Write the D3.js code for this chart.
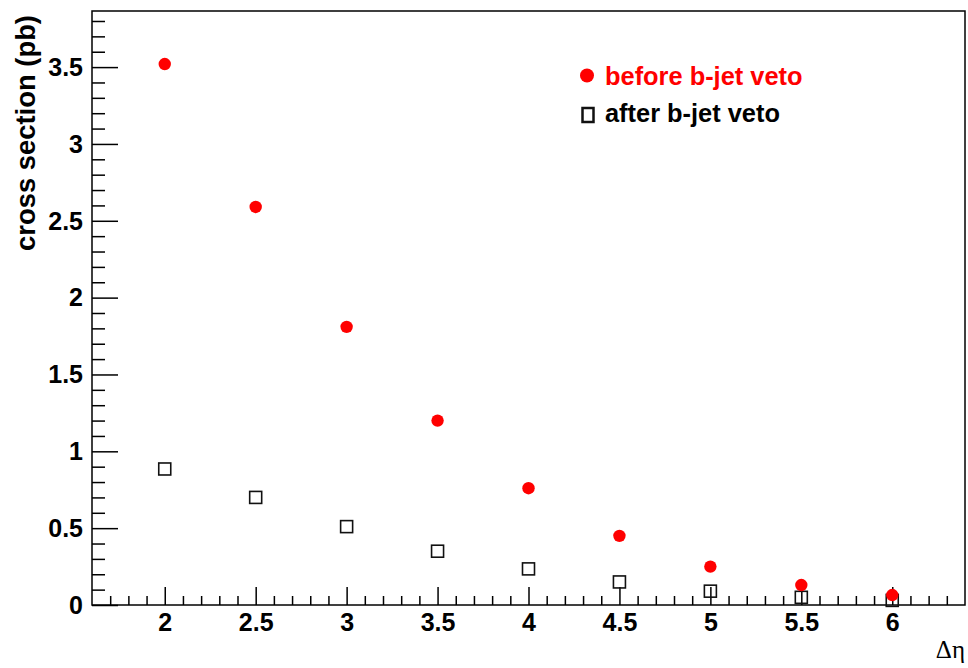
<!DOCTYPE html>
<html>
<head>
<meta charset="utf-8">
<script src="https://cdn.jsdelivr.net/npm/d3@7"></script>
<style>
  html, body { margin: 0; padding: 0; background: #fff; }
  svg { display: block; }
  text { font-family: "Liberation Sans", Arial, sans-serif; }
  text.serif { font-family: "Liberation Serif", "Times New Roman", serif; }
</style>
</head>
<body>
<svg id="chart" width="968" height="668"></svg>
<script>
// Δη bins and cross sections (pb)
const deltaEta = [2, 2.5, 3, 3.5, 4, 4.5, 5, 5.5, 6];
const beforeVeto = [3.52, 2.59, 1.81, 1.20, 0.76, 0.45, 0.25, 0.13, 0.065];
const afterVeto = [0.885, 0.70, 0.51, 0.35, 0.235, 0.15, 0.09, 0.05, 0.03];

const xMajorTicks = [2, 2.5, 3, 3.5, 4, 4.5, 5, 5.5, 6];
const xTickLabels = ["2", "2.5", "3", "3.5", "4", "4.5", "5", "5.5", "6"];
const yMajorTicks = [0, 0.5, 1, 1.5, 2, 2.5, 3, 3.5];
const yTickLabels = ["0", "0.5", "1", "1.5", "2", "2.5", "3", "3.5"];
const legendLabels = ["before b-jet veto", "after b-jet veto"];

const frame = { left: 92, right: 965, top: 11, bottom: 605 };
const svg = d3.select("#chart");

const x = d3.scaleLinear().domain([1.6, 6.4]).range([frame.left, frame.right]);
const y = d3.scaleLinear().domain([0, 3.865]).range([frame.bottom, frame.top]);

// minor tick positions
const xMinor = d3.range(17, 64).map(d => d / 10).filter(v => !xMajorTicks.some(m => Math.abs(m - v) < 1e-6));
const yMinor = d3.range(1, 39).map(d => d / 10).filter(v => !yMajorTicks.some(m => Math.abs(m - v) < 1e-6));

// X axis: ticks point up into the frame
const xAxisMajor = d3.axisBottom(x).tickValues(xMajorTicks).tickSizeInner(-18).tickSizeOuter(0)
  .tickFormat((d, i) => xTickLabels[i]);
const gx = svg.append("g").attr("transform", `translate(0,${frame.bottom})`).call(xAxisMajor);
gx.select(".domain").remove();
gx.selectAll(".tick line").attr("stroke", "#000").attr("stroke-width", 1.5);
gx.selectAll(".tick text").attr("font-size", 25).attr("font-weight", "bold").attr("fill", "#000")
  .attr("y", 26).attr("dy", null);

const gxm = svg.append("g").attr("transform", `translate(0,${frame.bottom})`)
  .call(d3.axisBottom(x).tickValues(xMinor).tickSizeInner(-9).tickSizeOuter(0).tickFormat(""));
gxm.select(".domain").remove();
gxm.selectAll(".tick line").attr("stroke", "#000").attr("stroke-width", 1.5);

// Y axis: ticks point right into the frame
const yAxisMajor = d3.axisLeft(y).tickValues(yMajorTicks).tickSizeInner(-26).tickSizeOuter(0)
  .tickFormat((d, i) => yTickLabels[i]);
const gy = svg.append("g").attr("transform", `translate(${frame.left},0)`).call(yAxisMajor);
gy.select(".domain").remove();
gy.selectAll(".tick line").attr("stroke", "#000").attr("stroke-width", 1.5);
gy.selectAll(".tick text").attr("font-size", 25).attr("font-weight", "bold").attr("fill", "#000")
  .attr("x", -9).attr("dy", "0.33em");

const gym = svg.append("g").attr("transform", `translate(${frame.left},0)`)
  .call(d3.axisLeft(y).tickValues(yMinor).tickSizeInner(-13).tickSizeOuter(0).tickFormat(""));
gym.select(".domain").remove();
gym.selectAll(".tick line").attr("stroke", "#000").attr("stroke-width", 1.5);

// frame
svg.append("rect")
  .attr("x", frame.left).attr("y", frame.top)
  .attr("width", frame.right - frame.left).attr("height", frame.bottom - frame.top)
  .attr("fill", "none").attr("stroke", "#000").attr("stroke-width", 1.5);

// after-veto markers (open squares)
const sq = 12;
svg.append("g").selectAll("rect").data(deltaEta).join("rect")
  .attr("x", d => x(d) - sq / 2)
  .attr("y", (d, i) => y(afterVeto[i]) - sq / 2)
  .attr("width", sq).attr("height", sq)
  .attr("fill", "none").attr("stroke", "#111").attr("stroke-width", 1.6);

// before-veto markers (filled circles)
svg.append("g").selectAll("circle").data(deltaEta).join("circle")
  .attr("cx", d => x(d))
  .attr("cy", (d, i) => y(beforeVeto[i]))
  .attr("r", 6.2)
  .attr("fill", "#ff0000");

// legend
svg.append("circle").attr("cx", 587).attr("cy", 75.5).attr("r", 7).attr("fill", "#ff0000");
svg.append("text").attr("x", 605).attr("y", 85)
  .attr("font-size", 25.4).attr("font-weight", "bold").attr("fill", "#ff0000").text(legendLabels[0]);
svg.append("rect").attr("x", 582.5).attr("y", 108).attr("width", 11).attr("height", 14)
  .attr("fill", "none").attr("stroke", "#111").attr("stroke-width", 2.5);
svg.append("text").attr("x", 605).attr("y", 122)
  .attr("font-size", 25.4).attr("font-weight", "bold").attr("fill", "#000").text(legendLabels[1]);

// axis titles
svg.append("text")
  .attr("transform", "translate(35,15) rotate(-90)")
  .attr("text-anchor", "end")
  .attr("font-size", 27.4).attr("font-weight", "bold").attr("fill", "#000")
  .text("cross section (pb)");

svg.append("text")
  .attr("class", "serif")
  .attr("x", 965).attr("y", 658)
  .attr("text-anchor", "end")
  .attr("font-size", 25).attr("fill", "#000")
  .text("Δη");
</script>
</body>
</html>
